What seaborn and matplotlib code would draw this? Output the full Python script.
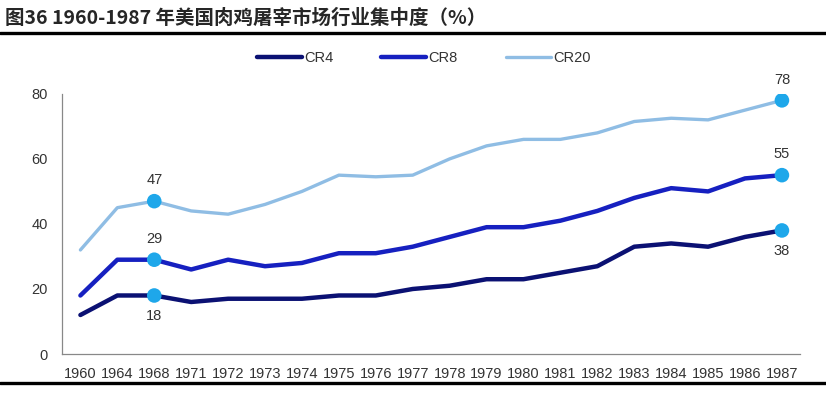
import matplotlib
matplotlib.use("Agg")
import matplotlib.pyplot as plt
import seaborn as sns
import pandas as pd

years = ["1960", "1964", "1968", "1971", "1972", "1973", "1974", "1975", "1976", "1977",
         "1978", "1979", "1980", "1981", "1982", "1983", "1984", "1985", "1986", "1987"]
cr4 = [12, 18, 18, 16, 17, 17, 17, 18, 18, 20, 21, 23, 23, 25, 27, 33, 34, 33, 36, 38]
cr8 = [18, 29, 29, 26, 29, 27, 28, 31, 31, 33, 36, 39, 39, 41, 44, 48, 51, 50, 54, 55]
cr20 = [32, 45, 47, 44, 43, 46, 50, 55, 54.5, 55, 60, 64, 66, 66, 68, 71.5, 72.5, 72, 75, 78]
series_names = ["CR4", "CR8", "CR20"]
labelled_years = ["1968", "1987"]


def main():
    df = pd.DataFrame({"year": years, "CR4": cr4, "CR8": cr8, "CR20": cr20})
    df["pos"] = range(len(years))
    long = df.melt(id_vars=["year", "pos"], value_vars=series_names,
                   var_name="series", value_name="value")

    sns.set_style("white")
    plt.rcParams["font.family"] = ["Liberation Sans", "Noto Sans CJK SC", "DejaVu Sans"]

    fig = plt.figure(figsize=(8.26, 3.96), dpi=100)
    ax = fig.add_axes([0.075, 0.106, 0.894, 0.657])

    colors = {"CR4": "#0b1173", "CR8": "#1620c0", "CR20": "#8fbde4"}
    widths = {"CR4": 3.2, "CR8": 3.2, "CR20": 2.4}
    for name in series_names:
        sub = long[long["series"] == name]
        sns.lineplot(data=sub, x="pos", y="value", ax=ax, color=colors[name],
                     linewidth=widths[name], label=name, solid_capstyle="round",
                     solid_joinstyle="round")

    # highlighted points with labels
    marks = long[long["year"].isin(labelled_years)]
    sns.scatterplot(data=marks, x="pos", y="value", ax=ax, color="#1ea7ea",
                    s=110, edgecolor="none", zorder=5, legend=False)
    for _, r in marks.iterrows():
        below = r["series"] == "CR4"
        ax.annotate(f"{r['value']:.0f}", (r["pos"], r["value"]),
                    xytext=(0, -15 if below else 15), textcoords="offset points",
                    ha="center", va="center", fontsize=10.5, color="#333333")

    ax.set_xlim(-0.5, len(years) - 0.5)
    ax.set_ylim(0, 80)
    ax.set_yticks([0, 20, 40, 60, 80])
    ax.set_xticks(range(len(years)))
    ax.set_xticklabels(years)
    ax.set_xticks([i - 0.5 for i in range(len(years) + 1)], minor=True)
    ax.tick_params(axis="x", which="major", length=0, pad=9, labelsize=10.5, colors="#333333")
    ax.tick_params(axis="x", which="minor", length=5, color="#888888", direction="out")
    ax.tick_params(axis="y", length=4, color="#888888", direction="out", labelsize=10.5,
                   colors="#333333", pad=6)
    ax.set_xlabel("")
    ax.set_ylabel("")
    for s in ["top", "right"]:
        ax.spines[s].set_visible(False)
    for s in ["left", "bottom"]:
        ax.spines[s].set_color("#888888")
        ax.spines[s].set_linewidth(0.9)

    ax.legend(loc="center", bbox_to_anchor=(0.513, 0.853), bbox_transform=fig.transFigure,
              ncol=3, frameon=False, handlelength=3.1, columnspacing=3.3,
              handletextpad=0.15, fontsize=10.5, labelcolor="#333333")

    fig.text(0.006, 0.955, "图36 1960-1987 年美国肉鸡屠宰市场行业集中度（%）",
             fontsize=14, fontweight="heavy", va="center", ha="left",
             family=["Noto Sans CJK SC", "DejaVu Sans"])
    fig.add_artist(plt.Line2D([0, 1], [0.917, 0.917], transform=fig.transFigure,
                              color="black", linewidth=2.4))
    fig.add_artist(plt.Line2D([0, 1], [0.033, 0.033], transform=fig.transFigure,
                              color="black", linewidth=2.4))

    fig.savefig("out.png", dpi=100)
    plt.close(fig)


if __name__ == "__main__":
    main()
